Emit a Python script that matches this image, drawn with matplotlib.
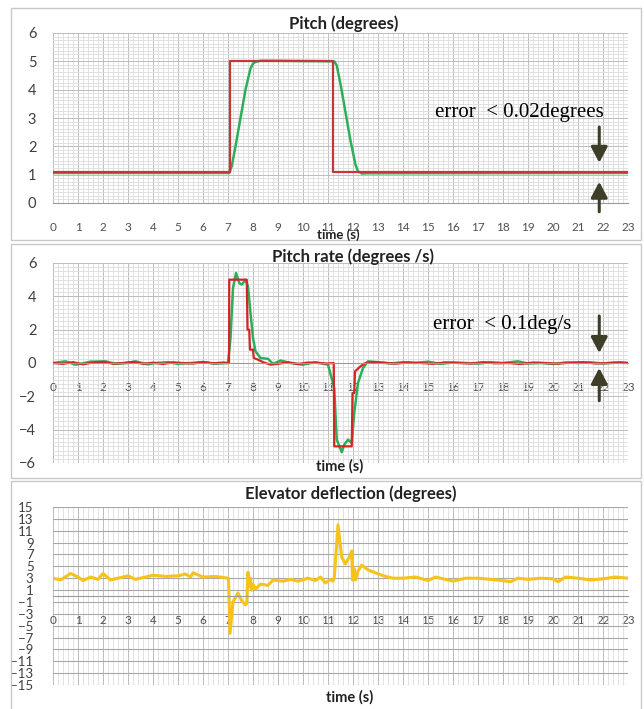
import numpy as np
import matplotlib
matplotlib.use("Agg")
import matplotlib.pyplot as plt
from matplotlib.ticker import MultipleLocator
from matplotlib.patches import Rectangle

# ---- data ----
x_ticks = list(range(0, 24))

# pitch (degrees)
pitch_ref_t = [0, 7.07, 7.07, 11.2, 11.2, 23]
pitch_ref = [1.08, 1.08, 5.0, 5.0, 1.08, 1.08]
pitch_t = [0, 7.05, 7.15, 7.3, 7.5, 7.7, 7.9, 8.0, 8.1, 8.3, 8.8, 11.25, 11.35,
           11.5, 11.7, 11.9, 12.1, 12.2, 12.35, 12.6, 23]
pitch = [1.06, 1.06, 1.3, 2.0, 3.0, 4.0, 4.75, 4.92, 4.98, 5.02, 5.02, 5.0, 4.85,
         4.2, 3.2, 2.2, 1.35, 1.12, 1.04, 1.05, 1.06]

# pitch rate (degrees/s)
rate_ref_t = [0, 0.4, 0.8, 1.2, 1.6, 2.0, 2.4, 2.8, 3.2, 3.6, 4.0, 4.4, 4.8, 5.2,
              5.6, 6.0, 6.4, 6.8, 7.04, 7.05, 7.75, 7.78, 7.85, 7.88, 8.0, 8.03,
              8.2, 8.4, 8.7, 9.0, 9.4, 9.8, 10.2, 10.6, 11.0, 11.23, 11.25, 11.95,
              11.98, 12.05, 12.08, 12.3, 12.5, 12.8, 13.2, 13.7, 14.2, 14.7, 15.2,
              15.7, 16.2, 16.7, 17.2, 17.7, 18.2, 18.7, 19.2, 19.7, 20.2, 20.7,
              21.2, 21.7, 22.2, 22.7, 23]
rate_ref = [0.0, -0.05, 0.05, -0.08, 0.03, 0.06, -0.04, 0.0, 0.07, -0.05, 0.02,
            -0.06, 0.04, 0.0, -0.03, 0.05, -0.02, 0.03, 0.0, 5.0, 5.0, 2.0, 2.0,
            0.8, 0.8, 0.3, 0.2, 0.05, -0.1, -0.05, 0.04, -0.06, 0.03, 0.0, -0.03,
            0.0, -5.0, -5.0, -1.8, -1.8, -0.5, -0.2, 0.0, 0.05, 0.02, -0.04, 0.03,
            0.0, -0.05, 0.04, 0.0, -0.03, 0.05, -0.02, 0.0, -0.06, 0.03, 0.0,
            -0.04, 0.02, 0.05, -0.03, 0.0, 0.04, 0.0]
rate_t = [0, 0.5, 0.9, 1.1, 1.5, 2.1, 2.5, 3.0, 3.3, 3.8, 4.1, 4.6, 5.0, 5.5,
          6.0, 6.5, 7.0, 7.1, 7.2, 7.32, 7.45, 7.55, 7.7, 7.8, 7.9, 8.0, 8.1,
          8.3, 8.6, 8.8, 9.1, 9.5, 10.0, 10.5, 11.0, 11.25, 11.35, 11.55,
          11.65, 11.8, 11.95, 12.05, 12.2, 12.4, 12.6, 13.0, 13.5, 14.0, 14.5,
          15.0, 15.5, 16.0, 16.5, 17.0, 17.5, 18.0, 18.6, 19.0, 19.5, 20.0,
          20.5, 21.0, 21.5, 22.0, 22.5, 23]
rate = [0.0, 0.1, -0.1, -0.05, 0.08, 0.1, -0.05, 0.0, 0.1, -0.08, 0.0, 0.05,
        -0.05, 0.0, 0.06, -0.04, 0.0, 1.5, 4.5, 5.4, 4.8, 4.7, 5.0, 4.6, 3.0, 1.5,
        0.7, 0.3, 0.25, -0.05, 0.15, 0.0, -0.1, 0.05, -0.1, -1.5, -4.6, -5.35,
        -4.9, -4.6, -4.8, -3.0, -1.2, -0.3, 0.1, 0.05, -0.03, 0.05, 0.0, 0.08,
        -0.05, 0.03, 0.0, -0.04, 0.05, 0.0, 0.1, -0.03, 0.0, -0.06, 0.03, 0.0,
        0.04, -0.03, 0.02, 0.0]

# elevator deflection (degrees)
elev_t = [0, 0.3, 0.7, 1.0, 1.2, 1.5, 1.8, 2.0, 2.3, 2.7, 3.0, 3.3, 3.7, 4.0,
          4.5, 5.0, 5.3, 5.5, 5.6, 6.0, 6.5, 7.0, 7.02, 7.08, 7.2, 7.4, 7.55,
          7.7, 7.75, 7.8, 7.85, 7.9, 7.95, 8.0, 8.1, 8.3, 8.6, 8.8, 9.2, 9.5,
          9.8, 10.2, 10.5, 10.7, 10.9, 11.1, 11.2, 11.25, 11.4, 11.55, 11.7,
          11.88, 11.95, 11.98, 12.05, 12.1, 12.2, 12.35, 12.6, 12.9, 13.3, 13.6,
          14.0, 14.5, 15.0, 15.3, 16.0, 16.5, 17.0, 17.5, 18.0, 18.3, 18.6, 19.0,
          19.5, 20.0, 20.2, 20.5, 21.0, 21.5, 22.0, 22.5, 23]
elev = [3.0, 2.7, 3.8, 3.2, 2.6, 3.2, 2.8, 3.8, 2.7, 3.1, 3.4, 2.8, 3.2, 3.5,
        3.3, 3.4, 3.7, 3.2, 3.9, 3.2, 3.3, 3.0, 3.0, -6.3, -1.0, 0.5, -0.8, -1.5,
        -1.2, 4.0, 1.5, 3.0, 1.0, 2.0, 1.2, 2.0, 1.8, 2.7, 2.5, 2.8, 2.5, 3.0,
        2.6, 3.2, 2.2, 2.8, 2.5, 3.0, 12.0, 6.5, 5.4, 6.8, 7.6, 2.7, 4.6, 2.7,
        4.2, 5.2, 4.4, 3.9, 3.3, 3.0, 3.0, 3.2, 2.6, 3.2, 2.5, 3.0, 3.0, 2.8,
        2.6, 2.4, 3.0, 2.8, 3.0, 2.9, 2.4, 3.2, 3.0, 2.7, 2.9, 3.2, 3.0]

# ---- figure ----
W, H = 644, 709
fig = plt.figure(figsize=(W / 100, H / 100), dpi=100)
plt.rcParams['font.family'] = ['Lato', 'DejaVu Sans']

red = '#C8343A'
green = '#2EAE5A'
yellow = '#F7C21A'
arrow_c = '#3D3D28'
tick_c = '#404040'


def px_axes(left, top, right, bottom):
    return fig.add_axes([left / W, 1 - bottom / H, (right - left) / W, (bottom - top) / H])


def px_text(x, y, s, **kw):
    fig.text(x / W, 1 - y / H, s, ha='center', va='center', **kw)


# panel frames
for top, bot in [(8, 240), (244, 478), (481, 712)]:
    fig.add_artist(Rectangle((11 / W, 1 - bot / H), 630 / W, (bot - top) / H,
                             transform=fig.transFigure, fill=False,
                             edgecolor='#C8C8C8', lw=1.0))


def style(ax, ymin, ymax, ymajor, yminor, ylabsize):
    ax.set_xlim(0, 23)
    ax.set_ylim(ymin, ymax)
    ax.xaxis.set_major_locator(MultipleLocator(1))
    ax.xaxis.set_minor_locator(MultipleLocator(0.2))
    ax.yaxis.set_major_locator(MultipleLocator(ymajor))
    if yminor:
        ax.yaxis.set_minor_locator(MultipleLocator(yminor))
    ax.grid(which='major', color='#BCBCBC', lw=0.7)
    ax.grid(which='minor', color='#DDDDDD', lw=0.6)
    ax.set_axisbelow(True)
    for s in ['top', 'right', 'left']:
        ax.spines[s].set_visible(False)
    ax.spines['bottom'].set_color('#9A9A9A')
    ax.tick_params(which='both', length=0)
    ax.tick_params(axis='x', labelsize=8.5, labelcolor='#505050', pad=14)
    ax.tick_params(axis='y', labelsize=ylabsize, labelcolor=tick_c, pad=12)


# panel 1: pitch
ax1 = px_axes(53, 33, 628, 203)
style(ax1, 0, 6, 1, 0.125, 10.5)
ax1.plot(pitch_t, pitch, color=green, lw=1.8)
ax1.plot(pitch_ref_t, pitch_ref, color=red, lw=1.6)
ax1.text(18.64, 3.2, 'error  < 0.02degrees', family='Liberation Serif',
         fontsize=15, ha='center', va='center')
aprops = dict(arrowstyle='-|>,head_length=0.95,head_width=0.5', lw=2.2,
              color=arrow_c, shrinkA=0, shrinkB=0, mutation_scale=10)
ax1.annotate('', xy=(21.85, 1.42), xytext=(21.85, 2.68), arrowprops=aprops)
ax1.annotate('', xy=(21.85, 0.75), xytext=(21.85, -0.31), arrowprops=aprops,
             annotation_clip=False)
px_text(338, 235, 'time (s)', fontsize=9.5, fontweight='bold', color='#222222')
px_text(344, 24, 'Pitch (degrees)', fontsize=12, fontweight='bold', color='#222222')

# panel 2: pitch rate
ax2 = px_axes(53, 263, 628, 463)
style(ax2, -6, 6, 2, 0.25, 10.5)
ax2.spines['bottom'].set_position(('data', 0))
ax2.plot(rate_t, rate, color=green, lw=1.8)
ax2.plot(rate_ref_t, rate_ref, color='#D42424', lw=1.6)
ax2.text(17.96, 2.34, 'error  < 0.1deg/s', family='Liberation Serif',
         fontsize=15, ha='center', va='center')
ax2.annotate('', xy=(21.85, 0.6), xytext=(21.85, 2.82), arrowprops=aprops)
ax2.annotate('', xy=(21.85, -0.3), xytext=(21.85, -2.26), arrowprops=aprops)
px_text(340, 466, 'time (s)', fontsize=10.5, fontweight='bold', color='#222222')
px_text(353, 257, 'Pitch rate (degrees /s)', fontsize=12, fontweight='bold',
        color='#222222')

# panel 3: elevator deflection
ax3 = px_axes(53, 507, 628, 685)
style(ax3, -15, 15, 2, None, 9.5)
ax3.set_yticks(list(range(-15, 16, 2)))
ax3.yaxis.grid(True, which='major', color='#A8A8A8', lw=0.8)
ax3.spines['bottom'].set_position(('data', 0))
ax3.tick_params(axis='y', pad=14)
ax3.plot(elev_t, elev, color=yellow, lw=2.2)
px_text(350, 697, 'time (s)', fontsize=10.5, fontweight='bold', color='#222222')
px_text(351, 494, 'Elevator deflection (degrees)', fontsize=12,
        fontweight='bold', color='#222222')

for ax in (ax1, ax2, ax3):
    ax.set_xticks(x_ticks)

fig.savefig('out.png', dpi=100)
